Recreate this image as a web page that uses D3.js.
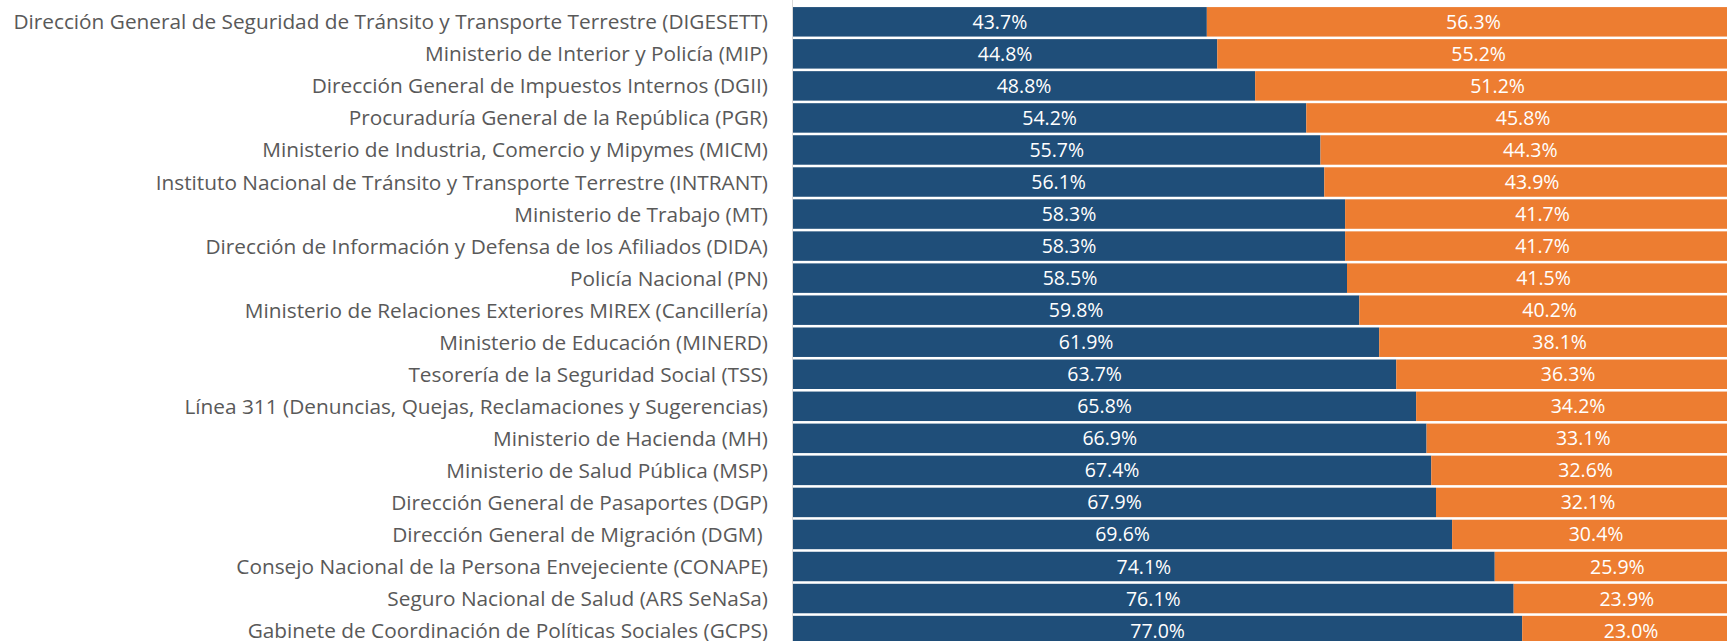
<!DOCTYPE html>
<html>
<head>
<meta charset="utf-8">
<script src="https://cdn.jsdelivr.net/npm/d3@7"></script>
<style>
  body { margin: 0; background: #fff; }
  svg { display: block; }
</style>
</head>
<body>
<script>
// Datos
const instituciones = [
  "Dirección General de Seguridad de Tránsito y Transporte Terrestre (DIGESETT)",
  "Ministerio de Interior y Policía (MIP)",
  "Dirección General de Impuestos Internos (DGII)",
  "Procuraduría General de la República (PGR)",
  "Ministerio de Industria, Comercio y Mipymes (MICM)",
  "Instituto Nacional de Tránsito y Transporte Terrestre (INTRANT)",
  "Ministerio de Trabajo (MT)",
  "Dirección de Información y Defensa de los Afiliados (DIDA)",
  "Policía Nacional (PN)",
  "Ministerio de Relaciones Exteriores MIREX (Cancillería)",
  "Ministerio de Educación (MINERD)",
  "Tesorería de la Seguridad Social (TSS)",
  "Línea 311 (Denuncias, Quejas, Reclamaciones y Sugerencias)",
  "Ministerio de Hacienda (MH)",
  "Ministerio de Salud Pública (MSP)",
  "Dirección General de Pasaportes (DGP)",
  "Dirección General de Migración (DGM) ",
  "Consejo Nacional de la Persona Envejeciente (CONAPE)",
  "Seguro Nacional de Salud (ARS SeNaSa)",
  "Gabinete de Coordinación de Políticas Sociales (GCPS)"
];
const serieAzul = [43.7, 44.8, 48.8, 54.2, 55.7, 56.1, 58.3, 58.3, 58.5, 59.8,
                   61.9, 63.7, 65.8, 66.9, 67.4, 67.9, 69.6, 74.1, 76.1, 77.0];
const serieNaranja = [56.3, 55.2, 51.2, 45.8, 44.3, 43.9, 41.7, 41.7, 41.5, 40.2,
                      38.1, 36.3, 34.2, 33.1, 32.6, 32.1, 30.4, 25.9, 23.9, 23.0];

const WIDTH = 1727;
const HEIGHT = 641;
const X0 = 793;      // inicio de las barras
const X1 = 1740;     // el 100% queda un poco fuera de la ventana

const datos = instituciones.map((nombre, i) => ({
  nombre,
  azul: serieAzul[i],
  naranja: serieNaranja[i],
}));

const svg = d3.select("body")
  .append("svg")
  .attr("width", WIDTH)
  .attr("height", HEIGHT);

const escalaX = d3.scaleLinear().domain([0, 100]).range([X0, X1]);
const escalaY = d3.scaleBand()
  .domain(instituciones)
  .range([5.8, 646.6])
  .paddingInner(0.08)
  .paddingOuter(0.04);

// Línea del eje vertical
svg.append("line")
  .attr("x1", X0 - 0.5).attr("x2", X0 - 0.5)
  .attr("y1", 0).attr("y2", HEIGHT)
  .attr("stroke", "#d9d9d9")
  .attr("stroke-width", 1);

const filas = svg.selectAll("g.fila")
  .data(datos)
  .join("g")
  .attr("class", "fila")
  .attr("transform", (d) => `translate(0, ${escalaY(d.nombre)})`);

const h = escalaY.bandwidth();

filas.append("rect")
  .attr("x", escalaX(0))
  .attr("y", 0)
  .attr("width", (d) => escalaX(d.azul) - escalaX(0))
  .attr("height", h)
  .attr("fill", "#1f4e79");

filas.append("rect")
  .attr("x", (d) => escalaX(d.azul))
  .attr("y", 0)
  .attr("width", (d) => escalaX(d.azul + d.naranja) - escalaX(d.azul))
  .attr("height", h)
  .attr("fill", "#ed7d31");

const fuente = "'Open Sans', 'DejaVu Sans', sans-serif";

filas.append("text")
  .attr("x", (d) => (escalaX(0) + escalaX(d.azul)) / 2)
  .attr("y", h / 2)
  .attr("dy", "0.36em")
  .attr("text-anchor", "middle")
  .attr("fill", "#ffffff")
  .attr("font-family", fuente)
  .attr("font-size", 19.5)
  .text((d) => d.azul.toFixed(1) + "%");

filas.append("text")
  .attr("x", (d) => (escalaX(d.azul) + escalaX(d.azul + d.naranja)) / 2)
  .attr("y", h / 2)
  .attr("dy", "0.36em")
  .attr("text-anchor", "middle")
  .attr("fill", "#ffffff")
  .attr("font-family", fuente)
  .attr("font-size", 19.5)
  .text((d) => d.naranja.toFixed(1) + "%");

// Etiquetas de categorías
filas.append("text")
  .attr("x", X0 - 25)
  .attr("y", h / 2)
  .attr("dy", "0.36em")
  .attr("text-anchor", "end")
  .attr("fill", "#595959")
  .attr("font-family", fuente)
  .attr("font-size", 20.8)
  .style("white-space", "pre")
  .text((d) => d.nombre);
</script>
</body>
</html>
